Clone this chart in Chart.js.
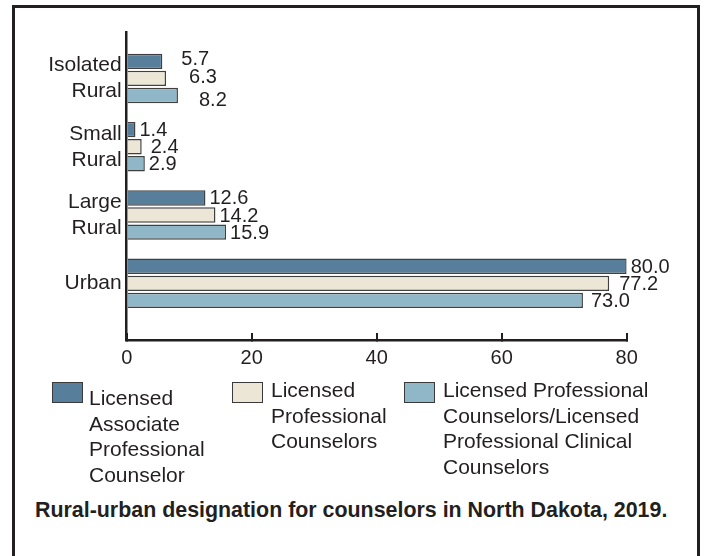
<!DOCTYPE html>
<html>
<head>
<meta charset="utf-8">
<script src="https://cdn.jsdelivr.net/npm/chart.js@4.4.1/dist/chart.umd.min.js"></script>
<style>
  html, body { margin: 0; padding: 0; background: #fff; }
  body {
    width: 704px; height: 556px; position: relative; overflow: hidden;
    font-family: 'Liberation Sans', Arial, Helvetica, sans-serif; color: #231f20;
  }
  .frame {
    position: absolute; left: 12px; top: 5px; width: 682px; height: 620px;
    border: 3px solid #231f20;
  }
  #chart { position: absolute; left: 0; top: 0; }
  .legend-box {
    position: absolute; top: 382px; width: 29px; height: 19px;
    border: 1.5px solid #3a3a3a;
  }
  .legend-text {
    position: absolute; font-size: 21px; line-height: 25.5px; white-space: nowrap;
  }
  .caption {
    position: absolute; left: 35px; top: 498px; font-size: 21.4px; font-weight: bold;
    white-space: nowrap;
  }
</style>
</head>
<body>
<div class="frame"></div>
<canvas id="chart" width="704" height="380"></canvas>
<div id="legend"></div>
<div class="caption">Rural-urban designation for counselors in North Dakota, 2019.</div>

<script>
  // categories top to bottom, tick labels split over lines like the original
  const categories = [['Isolated', 'Rural'], ['Small', 'Rural'], ['Large', 'Rural'], 'Urban'];

  const seriesLabels = [
    ['Licensed', 'Associate', 'Professional', 'Counselor'],
    ['Licensed', 'Professional', 'Counselors'],
    ['Licensed Professional', 'Counselors/Licensed', 'Professional Clinical', 'Counselors'],
  ];
  const seriesColors = ['#577e9a', '#ece6d6', '#90b7c7'];

  const associateValues = [5.7, 1.4, 12.6, 80.0];
  const professionalValues = [6.3, 2.4, 14.2, 77.2];
  const clinicalValues = [8.2, 2.9, 15.9, 73.0];

  const xTicks = [0, 20, 40, 60, 80];

  const INK = '#231f20';
  const FONT = "'Liberation Sans', Arial, Helvetica, sans-serif";

  // value labels at the end of each bar
  const barValueLabels = {
    id: 'barValueLabels',
    afterDatasetsDraw(chart, args, opts) {
      const { ctx } = chart;
      ctx.save();
      ctx.font = opts.font;
      ctx.fillStyle = opts.color;
      ctx.textAlign = 'left';
      ctx.textBaseline = 'middle';
      chart.data.datasets.forEach((ds, di) => {
        chart.getDatasetMeta(di).data.forEach((bar, i) => {
          const nudge = opts.nudge[di + ':' + i] || [0, 0];
          ctx.fillText(ds.data[i].x.toFixed(1), bar.x + opts.gap + nudge[0], bar.y + 1 + nudge[1]);
        });
      });
      ctx.restore();
    },
  };

  function toPoints(values) {
    return values.map((v, i) => ({ x: v, y: i }));
  }

  const seriesValues = [associateValues, professionalValues, clinicalValues];

  new Chart(document.getElementById('chart'), {
    type: 'bar',
    data: {
      datasets: seriesValues.map((vals, s) => ({
        label: seriesLabels[s].join(' '),
        data: toPoints(vals),
        backgroundColor: seriesColors[s],
        borderColor: '#404040',
        borderWidth: 1.5,
        categoryPercentage: 0.75,
        barPercentage: 0.9,
      })),
    },
    plugins: [barValueLabels],
    options: {
      indexAxis: 'y',
      responsive: false,
      animation: false,
      devicePixelRatio: 1,
      events: [],
      layout: { padding: { top: 32, right: 77.3, left: 0, bottom: 0 } },
      plugins: {
        legend: { display: false },
        tooltip: { enabled: false },
        barValueLabels: {
          font: '20px ' + FONT,
          color: INK,
          gap: 4,
          nudge: {
            '0:0': [15, -3], '1:0': [19, -2], '2:0': [17, 4],
            '1:1': [5, 0],
            '1:3': [6, 0], '2:3': [4, 0],
          },
        },
      },
      scales: {
        x: {
          type: 'linear',
          position: 'bottom',
          min: 0,
          max: 80,
          afterBuildTicks: (scale) => { scale.ticks = xTicks.map((v) => ({ value: v })); },
          afterFit: (scale) => { scale.height = 40; },
          grid: {
            drawOnChartArea: false,
            drawTicks: true,
            tickLength: -7,
            color: INK,
            lineWidth: 2,
          },
          border: { display: true, color: INK, width: 2.5 },
          ticks: { color: INK, font: { family: FONT, size: 20 }, padding: 13, maxRotation: 0 },
        },
        y: {
          type: 'linear',
          reverse: true,
          offset: false,
          min: -0.68,
          max: 3.83,
          z: 1,
          afterBuildTicks: (scale) => { scale.ticks = categories.map((c, i) => ({ value: i })); },
          afterFit: (scale) => { scale.width = 126.7; },
          grid: { display: false, drawTicks: false },
          border: { display: true, color: INK, width: 2.5 },
          ticks: {
            color: INK,
            font: { family: FONT, size: 21, lineHeight: 1.24 },
            padding: 5,
            callback: (v) => categories[v],
          },
        },
      },
    },
  });

  // wrapped legend drawn as html, boxes share a row and texts hang from them
  const legendSpots = [
    { box: 52, text: 89, top: 385 },
    { box: 232, text: 271, top: 377 },
    { box: 404, text: 443, top: 377 },
  ];
  const legend = document.getElementById('legend');
  seriesLabels.forEach((lines, s) => {
    const box = document.createElement('div');
    box.className = 'legend-box';
    box.style.left = legendSpots[s].box + 'px';
    box.style.background = seriesColors[s];
    legend.appendChild(box);

    const text = document.createElement('div');
    text.className = 'legend-text';
    text.style.left = legendSpots[s].text + 'px';
    text.style.top = legendSpots[s].top + 'px';
    text.innerHTML = lines.join('<br>');
    legend.appendChild(text);
  });
</script>
</body>
</html>
